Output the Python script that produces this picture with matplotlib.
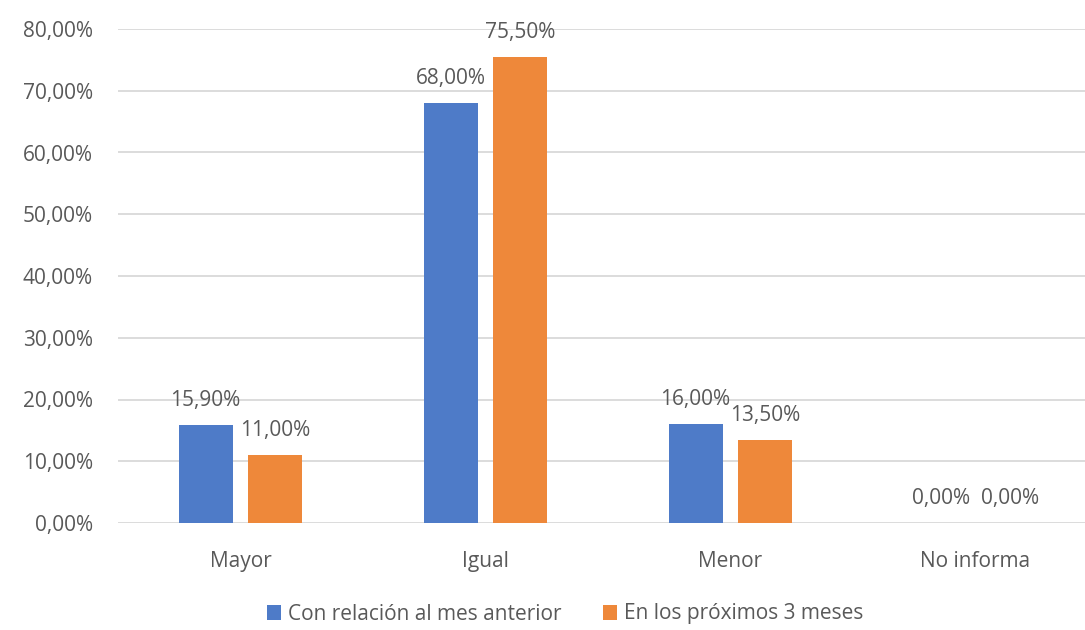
import matplotlib.pyplot as plt
import numpy as np
from matplotlib.ticker import FuncFormatter

categories = ['Mayor', 'Igual', 'Menor', 'No informa']
mes_anterior = [15.90, 68.00, 16.00, 0.00]
proximos_3 = [11.00, 75.50, 13.50, 0.00]
series_names = ['Con relación al mes anterior', 'En los próximos 3 meses']

BLUE = '#4E7BC8'
ORANGE = '#EE883A'
TEXT = '#595959'

plt.rcParams['font.family'] = ['Open Sans', 'DejaVu Sans']

fig = plt.figure(figsize=(10.85, 6.3), dpi=100)
# plot area runs a little past the right edge of the figure
ax = fig.add_axes([118 / 1085, 1 - 523 / 630, 980 / 1085, 494 / 630])

x = np.arange(len(categories))
w = 0.22
gap = 0.065
b1 = ax.bar(x - (w + gap) / 2, mes_anterior, w, color=BLUE, label=series_names[0], zorder=3)
b2 = ax.bar(x + (w + gap) / 2, proximos_3, w, color=ORANGE, label=series_names[1], zorder=3)

fmt = lambda v: f'{v:.2f}'.replace('.', ',') + '%'
for bars, vals in ((b1, mes_anterior), (b2, proximos_3)):
    for rect, v in zip(bars, vals):
        ax.annotate(fmt(v), (rect.get_x() + rect.get_width() / 2, v),
                    xytext=(0, 10), textcoords='offset points',
                    ha='center', va='bottom', fontsize=15, color=TEXT)

ax.set_xlim(-0.5, len(categories) - 0.5)
ax.set_ylim(0, 80)
ax.set_yticks(np.arange(0, 81, 10))
ax.yaxis.set_major_formatter(FuncFormatter(lambda v, _: fmt(v)))
ax.set_xticks(x)
ax.set_xticklabels(categories)
ax.tick_params(axis='both', length=0, labelsize=15, colors=TEXT)
ax.tick_params(axis='y', pad=18)
ax.tick_params(axis='x', pad=20)
ax.grid(axis='y', color='#D9D9D9', linewidth=1.3, zorder=0)
for s in ax.spines.values():
    s.set_visible(False)

fig.legend(loc='center', bbox_to_anchor=(565 / 1085, 1 - 614 / 630), ncol=2,
           frameon=False, fontsize=15, handlelength=0.7, handleheight=0.7,
           handletextpad=0.3, columnspacing=2.0, labelcolor=TEXT)

plt.savefig('out.png', dpi=100)
